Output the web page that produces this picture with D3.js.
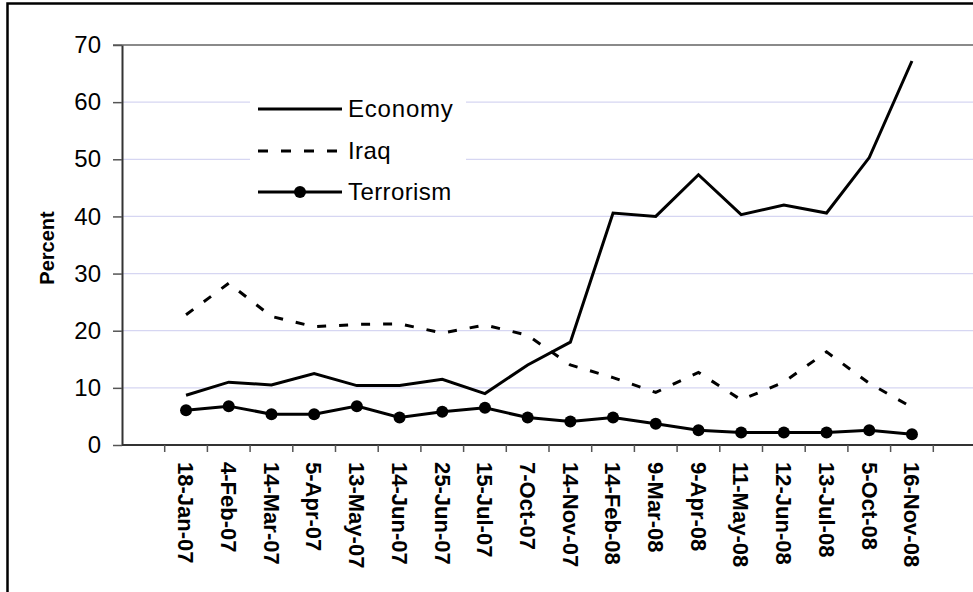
<!DOCTYPE html>
<html>
<head>
<meta charset="utf-8">
<script src="https://cdn.jsdelivr.net/npm/d3@7"></script>
<style>
  body { margin: 0; background: #fff; }
  svg { display: block; font-family: "Liberation Sans", Arial, sans-serif; }
</style>
</head>
<body>
<svg id="chart"></svg>
<script>
// survey dates (blank slot at each end, like the original category axis)
const dates = ["18-Jan-07", "4-Feb-07", "14-Mar-07", "5-Apr-07", "13-May-07", "14-Jun-07",
  "25-Jun-07", "15-Jul-07", "7-Oct-07", "14-Nov-07", "14-Feb-08", "9-Mar-08",
  "9-Apr-08", "11-May-08", "12-Jun-08", "13-Jul-08", "5-Oct-08", "16-Nov-08"];

const economy = [8.7, 11, 10.5, 12.5, 10.4, 10.4, 11.5, 9.0, 14, 18, 40.6, 40, 47.3, 40.3, 42, 40.6, 50.3, 67.2];
const iraq = [22.8, 28.3, 22.5, 20.7, 21.1, 21.2, 19.6, 21, 19.2, 14, 11.8, 9.2, 12.7, 7.9, 11, 16.3, 10.8, 6.6];
const terrorism = [6.1, 6.8, 5.4, 5.4, 6.8, 4.8, 5.8, 6.5, 4.8, 4.1, 4.8, 3.7, 2.6, 2.2, 2.2, 2.2, 2.6, 1.9];

const yTicks = [0, 10, 20, 30, 40, 50, 60, 70];

const width = 973;
const height = 592;
const plot = { left: 122, top: 45, bottom: 445, right: 976 };

const svg = d3.select("#chart").attr("width", width).attr("height", height);

// outer chart border (runs off the right and bottom of the picture)
svg.append("rect")
  .attr("x", 7.5).attr("y", 3.5)
  .attr("width", 1200).attr("height", 1200)
  .attr("fill", "none").attr("stroke", "#000").attr("stroke-width", 2.5);

const cats = ["_a", ...dates, "_b"];

const x = d3.scaleBand()
  .domain(cats)
  .range([plot.left, plot.right]);

const y = d3.scaleLinear()
  .domain([0, 70])
  .range([plot.bottom, plot.top]);

// gridlines
svg.append("g")
  .selectAll("line")
  .data(yTicks.filter(d => d > 0))
  .join("line")
  .attr("x1", d => d == 70 ? 113 : plot.left)
  .attr("x2", width)
  .attr("y1", d => y(d))
  .attr("y2", d => y(d))
  .attr("stroke", d => d == 70 ? "#8a8a8a" : "#d6d6f2")
  .attr("stroke-width", d => d == 70 ? 2 : 1.2);

// y axis
const yAxis = svg.append("g")
  .attr("transform", `translate(${plot.left},0)`)
  .call(d3.axisLeft(y).tickValues(yTicks).tickSize(9).tickPadding(12).tickSizeOuter(0));
yAxis.select(".domain").attr("stroke", "#333").attr("stroke-width", 2);
yAxis.selectAll(".tick line").attr("stroke", "#555").attr("stroke-width", 1.5);
yAxis.selectAll(".tick text")
  .attr("font-size", 24)
  .attr("fill", "#000")
  .attr("font-family", "Liberation Sans, Arial, sans-serif");

svg.append("text")
  .attr("transform", `translate(54,248) rotate(-90)`)
  .attr("text-anchor", "middle")
  .attr("font-size", 20)
  .attr("font-weight", "bold")
  .text("Percent");

// x axis: category boundaries as ticks, labels in the middle of each band
const xg = svg.append("g").attr("transform", `translate(0,${plot.bottom})`);
xg.append("line")
  .attr("x1", plot.left).attr("x2", width)
  .attr("stroke", "#333").attr("stroke-width", 2);
xg.selectAll("line.tk")
  .data(cats.slice(1))
  .join("line")
  .attr("class", "tk")
  .attr("x1", d => x(d)).attr("x2", d => x(d))
  .attr("y1", 0).attr("y2", 7)
  .attr("stroke", "#555").attr("stroke-width", 1.5);
xg.selectAll("text")
  .data(dates)
  .join("text")
  .attr("transform", d => `translate(${x(d) + x.bandwidth() / 2},17) rotate(90)`)
  .attr("dy", "0.35em")
  .attr("text-anchor", "start")
  .attr("font-size", 22)
  .attr("font-weight", "bold")
  .text(d => d);

const cx = (d, i) => x(dates[i]) + x.bandwidth() / 2;
const line = d3.line().x(cx).y(d => y(d));

svg.append("path").datum(economy)
  .attr("d", line).attr("fill", "none")
  .attr("stroke", "#000").attr("stroke-width", 3).attr("stroke-linejoin", "miter");

svg.append("path").datum(iraq)
  .attr("d", line).attr("fill", "none")
  .attr("stroke", "#000").attr("stroke-width", 3).attr("stroke-dasharray", "9,13");

svg.append("path").datum(terrorism)
  .attr("d", line).attr("fill", "none")
  .attr("stroke", "#000").attr("stroke-width", 3);
svg.append("g").selectAll("circle")
  .data(terrorism)
  .join("circle")
  .attr("cx", cx).attr("cy", d => y(d)).attr("r", 6)
  .attr("fill", "#000");

// legend
const legend = svg.append("g");
legend.append("rect")
  .attr("x", 250).attr("y", 92).attr("width", 216).attr("height", 116)
  .attr("fill", "#fff");
const items = ["Economy", "Iraq", "Terrorism"];
const rowY = [109, 151, 192];
items.forEach((name, i) => {
  const g = legend.append("g").attr("transform", `translate(0,${rowY[i]})`);
  g.append("line")
    .attr("x1", 258).attr("x2", 342)
    .attr("stroke", "#000").attr("stroke-width", 3)
    .attr("stroke-dasharray", name == "Iraq" ? "10,13" : null);
  if (name == "Terrorism") {
    g.append("circle").attr("cx", 300).attr("r", 6).attr("fill", "#000");
  }
  g.append("text")
    .attr("x", 348).attr("dy", "0.35em")
    .attr("font-size", 24)
    .attr("letter-spacing", name == "Economy" ? 0.8 : 0.4)
    .text(name);
});
</script>
</body>
</html>
